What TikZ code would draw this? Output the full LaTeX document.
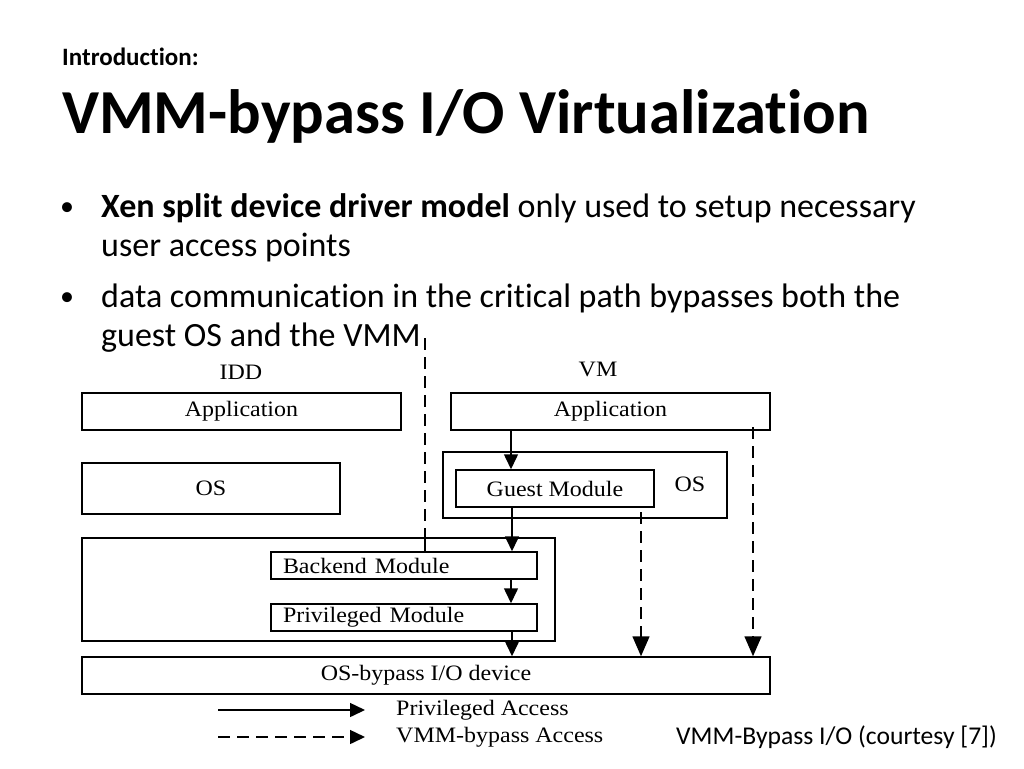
\documentclass[tikz,border=0pt]{standalone}
\usepackage{fontspec}
\usepackage{graphicx}
\setmainfont{Liberation Serif}
\newfontfamily\calib[Ligatures={NoCommon,NoDiscretionary,NoRare}]{Carlito}
\usetikzlibrary{arrows.meta}
\newcommand\dt[1]{\scalebox{1.09}[1]{#1}}
\begin{document}
\begin{tikzpicture}[x=1pt,y=-1pt,
  box/.style={draw, line width=1.5pt, inner sep=0pt, font=\fontsize{22}{26}\selectfont},
  lbl/.style={inner sep=0pt, font=\fontsize{22}{26}\selectfont},
  body/.style={inner sep=0pt, anchor=base west, font=\calib\fontsize{34}{40}\selectfont},
  priv/.style={line width=1.5pt, -{Triangle[width=14pt,length=15pt]}},
  bypass/.style={line width=1.5pt, dash pattern=on 12pt off 7pt, -{Triangle[width=17pt,length=20pt]}}]
\useasboundingbox (0,0) rectangle (1024,768);
% slide text
\node[inner sep=0pt, anchor=base west, font=\calib\bfseries\fontsize{25}{30}\selectfont] (intro) at (62,65) {Introduction:};
\node[inner sep=0pt, anchor=base west, font=\calib\bfseries\fontsize{62.6}{70}\selectfont] (title) at (62,133) {VMM-bypass I/O Virtualization};
\node[body, font=\calib\fontsize{28}{34}\selectfont] (bul1) at (60,215) {•};
\node[body] (b1a) at (101,217) {\textbf{Xen split device driver model} only used to setup necessary};
\node[body] (b1b) at (101,256) {user access points};
\node[body, font=\calib\fontsize{28}{34}\selectfont] (bul2) at (60,305) {•};
\node[body] (b2a) at (101,307) {data communication in the critical path bypasses both the};
\node[body] (b2b) at (101,346) {guest OS and the VMM};
% diagram
\node[lbl] (iddlbl) at (241,372) {\dt{IDD}};
\node[lbl] (vmlbl) at (598,369) {\dt{VM}};
\node[box, minimum width=319pt, minimum height=37pt] (iddapp) at (241.5,411.5) {\dt{Application}};
\node[box, minimum width=258pt, minimum height=51pt] (iddos) at (211,488.5) {\dt{OS}};
\node[box, minimum width=319pt, minimum height=37pt] (vmapp) at (610.5,411.5) {\dt{Application}};
\node[box, minimum width=284pt, minimum height=66pt] (vmos) at (585,485) {};
\node[lbl] (vmoslbl) at (690,484) {\dt{OS}};
\node[box, minimum width=198pt, minimum height=37pt] (guest) at (555,488.5) {\dt{Guest Module}};
\node[box, minimum width=473pt, minimum height=103pt] (iddbox) at (318.5,589.5) {};
\node[box, minimum width=266pt, minimum height=27pt, text width=242pt, align=left] (backend) at (404,565.5) {\dt{Backend Module}};
\node[box, minimum width=266pt, minimum height=27pt, text width=242pt, align=left] (privm) at (404,617.5) {\dt{Privileged Module}};
\node[box, minimum width=688pt, minimum height=37pt] (device) at (426,675.5) {\dt{OS-bypass I/O device}};
% connectors
\coordinate (xa) at (511,0);
\coordinate (xb) at (512,0);
\draw[priv] (vmapp.south -| xa) -- (guest.north -| xa);
\draw[priv] (guest.south -| xb) -- (backend.north -| xb);
\draw[priv] (backend.south -| xa) -- (privm.north -| xa);
\draw[priv] (privm.south -| xb) -- (device.north -| xb);
\coordinate (d1) at (641,512);
\coordinate (d2) at (753,427);
\draw[bypass] (d1) -- (device.north -| d1);
\draw[bypass] (d2) -- (device.north -| d2);
\coordinate (divtop) at (425,338);
\draw[line width=1.5pt, dash pattern=on 12pt off 7pt] (divtop) -- (iddbox.north -| divtop);
\draw[line width=1.5pt] (iddbox.north -| divtop) -- (backend.north -| divtop);
% legend
\coordinate (l1s) at (218,710);
\coordinate (l1e) at (365,710);
\coordinate (l2s) at (218,737);
\coordinate (l2e) at (365,737);
\draw[priv] (l1s) -- (l1e);
\draw[priv, dash pattern=on 12pt off 7pt] (l2s) -- (l2e);
\node[lbl, anchor=west] (leg1) at (396,710) {\dt{Privileged Access}};
\node[lbl, anchor=west] (leg2) at (396,737) {\dt{VMM-bypass Access}};
\node[inner sep=0pt, anchor=west, font=\calib\fontsize{25.6}{30}\selectfont] (caption) at (676,737) {VMM-Bypass I/O (courtesy [7])};
\end{tikzpicture}
\end{document}
